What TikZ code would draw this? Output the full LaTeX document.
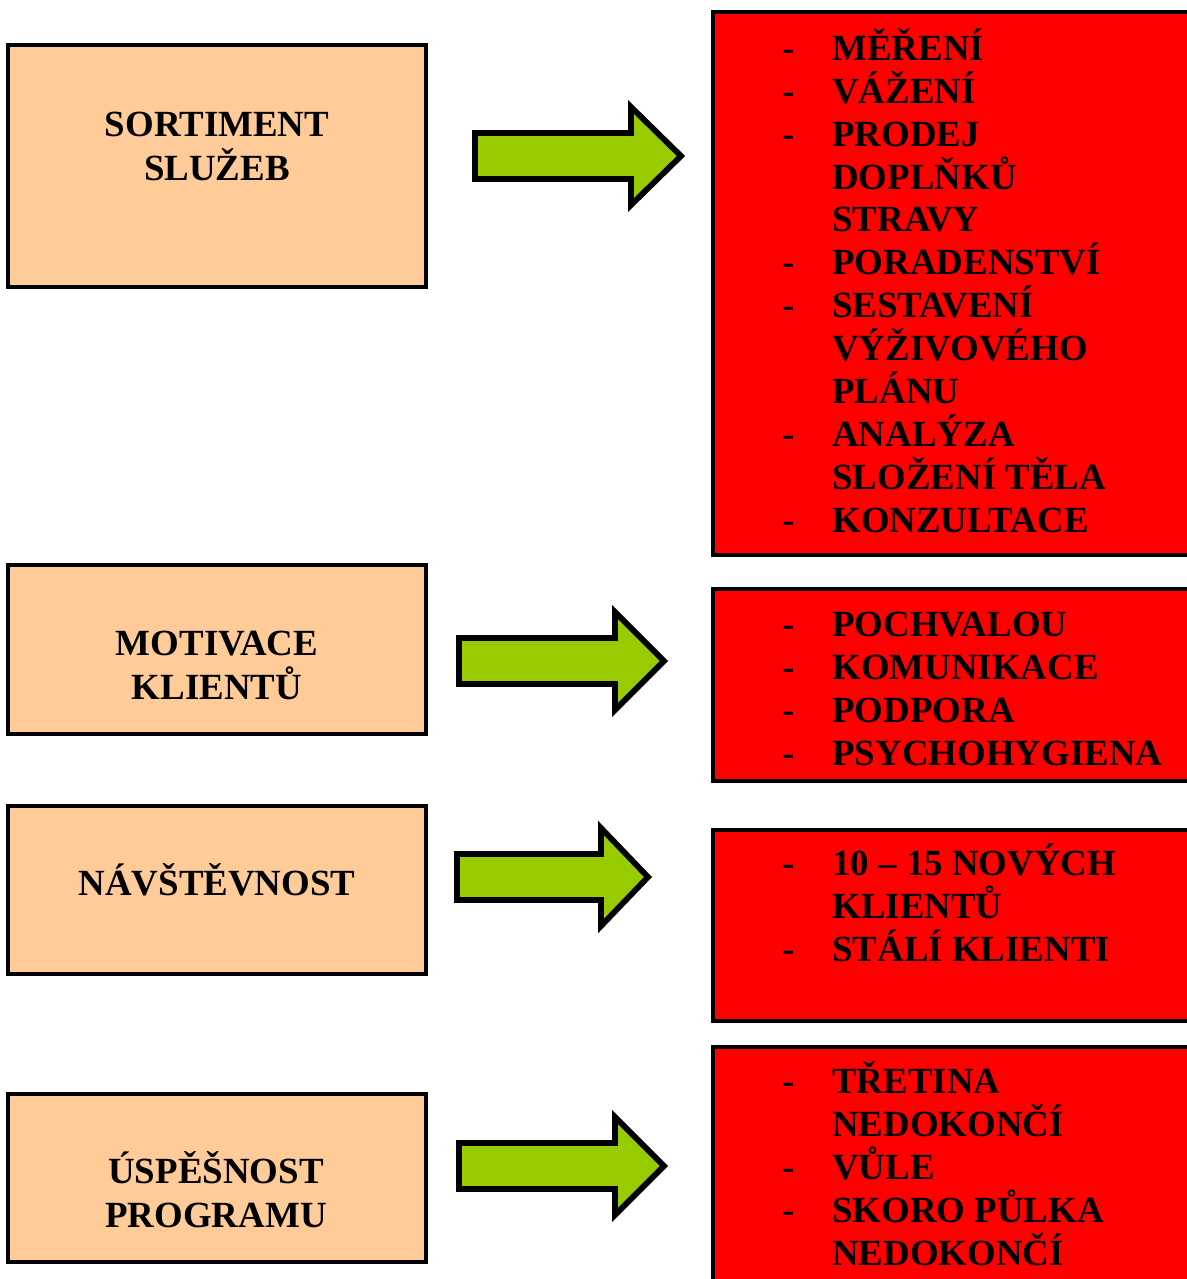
\documentclass[tikz,border=0pt]{standalone}
\usepackage{fontspec}
\setmainfont{Liberation Serif}
\usepackage{xcolor}
\definecolor{peach}{HTML}{FFCC99}
\definecolor{alarmred}{HTML}{FF0000}
\definecolor{limegreen}{HTML}{99CC00}
\usepackage{tikz}
\newcommand{\dashitem}[1]{\makebox[1cm][l]{-}#1}
\newcommand{\contline}[1]{\hspace*{1cm}#1}

\begin{document}
\begin{tikzpicture}[x=0.02cm, y=-0.02cm,
  topicbox/.style={draw=black, line width=1.8pt, fill=peach, minimum width=8.36cm},
  listbox/.style={draw=black, line width=1.8pt, fill=alarmred, minimum width=9.64cm},
  topictext/.style={anchor=base, align=center, inner sep=0pt,
                    font=\fontsize{21}{24.9}\selectfont\bfseries},
  listtext/.style={anchor=base west, align=left, inner sep=0pt,
                   font=\fontsize{21}{24.4}\selectfont\bfseries},
  bigarrow/.style={draw=black, line width=3.3pt, fill=limegreen, line join=miter}
]
  \useasboundingbox (0,0) rectangle (1187,1279);
  \clip (0,0) rectangle (1187,1279);

  % left topics
  \node[topicbox, minimum height=4.84cm] (sortiment) at (217,166) {};
  \node[topicbox, minimum height=3.38cm] (motivace) at (217,649.5) {};
  \node[topicbox, minimum height=3.36cm] (navstevnost) at (217,890) {};
  \node[topicbox, minimum height=3.36cm] (uspesnost) at (217,1178) {};

  % texts sit on the baseline of their last line
  \node[topictext] (sortimenttxt) at (217,180) {SORTIMENT\\SLUŽEB};
  \node[topictext] (motivacetxt) at (217,699) {MOTIVACE\\KLIENTŮ};
  \node[topictext] (navstevnosttxt) at (217,895) {NÁVŠTĚVNOST};
  \node[topictext] (uspesnosttxt) at (216,1227) {ÚSPĚŠNOST\\PROGRAMU};

  % right lists (open to the page edge)
  \node[listbox, minimum height=10.86cm] (sluzby) at (954,283.5) {};
  \node[listbox, minimum height=3.84cm] (zpusoby) at (954,685) {};
  \node[listbox, minimum height=3.82cm] (pocty) at (954,925.5) {};
  \node[listbox, minimum height=4.86cm] (vysledky) at (954,1168.5) {};

  \node[listtext] (sluzbytxt) at (782,532) {\dashitem{MĚŘENÍ}\\\dashitem{VÁŽENÍ}\\
    \dashitem{PRODEJ}\\\contline{DOPLŇKŮ}\\\contline{STRAVY}\\\dashitem{PORADENSTVÍ}\\
    \dashitem{SESTAVENÍ}\\\contline{VÝŽIVOVÉHO}\\\contline{PLÁNU}\\
    \dashitem{ANALÝZA}\\\contline{SLOŽENÍ TĚLA}\\\dashitem{KONZULTACE}};
  \node[listtext] (zpusobytxt) at (782,765) {\dashitem{POCHVALOU}\\\dashitem{KOMUNIKACE}\\
    \dashitem{PODPORA}\\\dashitem{PSYCHOHYGIENA}};
  \node[listtext] (poctytxt) at (782,961) {\dashitem{10 – 15 NOVÝCH}\\\contline{KLIENTŮ}\\
    \dashitem{STÁLÍ KLIENTI}};
  \node[listtext] (vysledkytxt) at (782,1265) {\dashitem{TŘETINA}\\\contline{NEDOKONČÍ}\\
    \dashitem{VŮLE}\\\dashitem{SKORO PŮLKA}\\\contline{NEDOKONČÍ}};

  % block arrows: shaft start / head base / tip / middle
  \foreach \xs/\xh/\xt/\ym in {475/631/681/156, 459/615/664/661, 457/601/648/877, 459/615/664/1166} {
    \draw[bigarrow] (\xs,\ym-23) -- (\xh,\ym-23) -- (\xh,\ym-49) -- (\xt,\ym)
      -- (\xh,\ym+49) -- (\xh,\ym+23) -- (\xs,\ym+23) -- cycle;
  }
\end{tikzpicture}
\end{document}
